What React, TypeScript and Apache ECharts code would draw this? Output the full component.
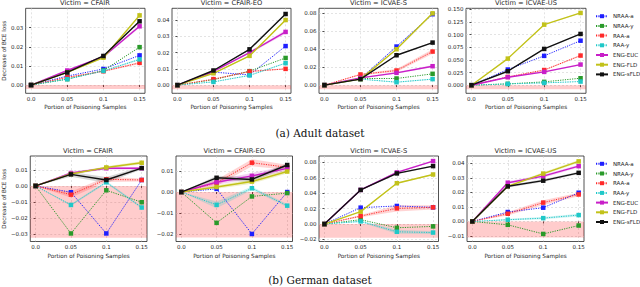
import React, { useEffect, useRef } from 'react';
import * as echarts from 'echarts';

const methods = ['NRAA-a', 'NRAA-y', 'RAA-a', 'RAA-y', 'ENG-EUC', 'ENG-FLD', 'ENG-sFLD'];
const colors = ['#1f1fff', '#2a9a2a', '#ff2a2a', '#1fc8c8', '#c81fc8', '#c2c21a', '#111111'];
const bandColors = ['rgba(31,31,255,0.18)', 'rgba(42,154,42,0.18)', 'rgba(255,42,42,0.2)', 'rgba(31,200,200,0.22)', 'rgba(200,31,200,0.2)', 'rgba(194,194,26,0.25)', 'rgba(0,0,0,0.16)'];
const xValues = [0, 0.05, 0.1, 0.15];
const xTickLabels = ['0.0', '0.05', '0.1', '0.15'];

// Rows follow the order of `methods`
const adultCFAIR = [
  [0, 0.0047, 0.0084, 0.0155],
  [0, 0.0031, 0.0076, 0.0198],
  [0, 0.004, 0.0072, 0.0116],
  [0, 0.0031, 0.0074, 0.0134],
  [0, 0.0076, 0.0148, 0.0307],
  [0, 0.0066, 0.0143, 0.0364],
  [0, 0.0066, 0.0152, 0.0333],
];
const adultCFAIREO = [
  [0, 0.008, 0.0063, 0.024],
  [0, 0.0033, 0.0086, 0.0167],
  [0, 0.0037, 0.0084, 0.01],
  [0, 0.002, 0.006, 0.0135],
  [0, 0.0084, 0.02, 0.0327],
  [0, 0.0073, 0.018, 0.04],
  [0, 0.009, 0.022, 0.0437],
];
const adultICVAES = [
  [0, 0.0074, 0.043, 0.079],
  [0, 0.0074, 0.0074, 0.0126],
  [0, 0.0119, 0.0163, 0.0374],
  [0, 0.0067, 0.0033, 0.0067],
  [0, 0.0081, 0.0137, 0.0211],
  [0, 0.0067, 0.04, 0.08],
  [0, 0.0067, 0.0333, 0.0474],
];
const adultICVAEUS = [
  [0, 0.031, 0.058, 0.088],
  [0, 0.0026, 0.0066, 0.0138],
  [0, 0.0164, 0.03, 0.0586],
  [0, 0.0026, 0.0046, 0.0072],
  [0, 0.0158, 0.0263, 0.0408],
  [0, 0.0526, 0.1197, 0.1428],
  [0, 0.0276, 0.0717, 0.1013],
];
const germanCFAIR = [
  [0, -0.0039, -0.0295, 0.0037],
  [0, -0.0295, -0.0027, -0.0101],
  [0, -0.0054, 0.0041, 0.0037],
  [0, -0.0118, 0.0023, -0.0134],
  [0, 0.008, 0.011, 0.011],
  [0, 0.0074, 0.0115, 0.0144],
  [0, 0.0072, 0.0037, 0.0111],
];
const germanCFAIREO = [
  [0, 0.0015, -0.02, 0.0],
  [0, -0.0147, -0.0021, -0.0005],
  [0, 0.0044, 0.014, 0.0118],
  [0, -0.0061, 0.0018, -0.0065],
  [0, 0.0047, 0.0077, 0.0113],
  [0, 0.0024, 0.005, 0.0098],
  [0, 0.0068, 0.006, 0.0129],
];
const germanICVAES = [
  [0, 0.0213, 0.0235, 0.0217],
  [0, 0.0057, -0.0048, -0.003],
  [0, 0.0104, 0.0204, 0.0217],
  [0, 0.0035, -0.01, -0.011],
  [0, 0.0443, 0.067, 0.0817],
  [0, 0.0161, 0.053, 0.0643],
  [0, 0.0443, 0.0657, 0.0752],
];
const germanICVAEUS = [
  [0, 0.0065, 0.0095, 0.0198],
  [0, -0.0023, -0.0086, -0.0028],
  [0, 0.0053, 0.013, 0.0186],
  [0, 0.0012, 0.0023, 0.0044],
  [0, 0.0267, 0.0312, 0.0381],
  [0, 0.0242, 0.033, 0.0414],
  [0, 0.0242, 0.0281, 0.0335],
];

// half-width of the shaded confidence band around each line (same row order)
const spreadAdultCFAIR = [
  [0, 0, 0, 0], [0, 0, 0, 0], [0, 0.0003, 0.0004, 0.0006], [0, 0.0002, 0.0003, 0.0005],
  [0, 0.0004, 0.0005, 0.0008], [0, 0.0003, 0.0004, 0.0006], [0, 0.0003, 0.0004, 0.0005],
];
const spreadAdultCFAIREO = [
  [0, 0, 0, 0], [0, 0, 0, 0], [0, 0.0003, 0.0004, 0.0004], [0, 0.0002, 0.0003, 0.0004],
  [0, 0.0004, 0.0006, 0.0012], [0, 0.0003, 0.0004, 0.0006], [0, 0.0003, 0.0004, 0.0005],
];
const spreadAdultICVAES = [
  [0, 0, 0.0005, 0.0005], [0, 0, 0, 0], [0, 0.0008, 0.0018, 0.0025], [0, 0.0004, 0.0006, 0.0006],
  [0, 0.0005, 0.0009, 0.0012], [0, 0.0003, 0.0006, 0.0008], [0, 0.0003, 0.0005, 0.0006],
];
const spreadAdultICVAEUS = [
  [0, 0, 0, 0], [0, 0, 0, 0], [0, 0.0008, 0.0012, 0.0015], [0, 0.0004, 0.0005, 0.0006],
  [0, 0.0008, 0.0012, 0.0015], [0, 0.0006, 0.0008, 0.001], [0, 0.0006, 0.0008, 0.001],
];
const spreadGermanCFAIR = [
  [0, 0, 0, 0], [0, 0, 0, 0], [0, 0.0018, 0.0016, 0.001], [0, 0.0006, 0.0008, 0.0008],
  [0, 0.0008, 0.0008, 0.0008], [0, 0.0005, 0.0008, 0.0009], [0, 0.0015, 0.0018, 0.0009],
];
const spreadGermanCFAIREO = [
  [0, 0, 0, 0], [0, 0, 0, 0], [0, 0.0015, 0.0017, 0.0012], [0, 0.0016, 0.0008, 0.0008],
  [0, 0.0012, 0.0014, 0.0012], [0, 0.0008, 0.001, 0.0009], [0, 0.001, 0.0012, 0.0009],
];
const spreadGermanICVAES = [
  [0, 0, 0, 0], [0, 0, 0, 0], [0, 0.0015, 0.004, 0.0028], [0, 0.0012, 0.0025, 0.0018],
  [0, 0.0008, 0.0012, 0.001], [0, 0.0005, 0.0008, 0.0008], [0, 0.0008, 0.001, 0.001],
];
const spreadGermanICVAEUS = [
  [0, 0, 0, 0], [0, 0, 0, 0], [0, 0.0012, 0.0016, 0.0012], [0, 0.0006, 0.0008, 0.001],
  [0, 0.001, 0.001, 0.001], [0, 0.0007, 0.0009, 0.0009], [0, 0.0008, 0.0009, 0.0008],
];

const victims = ['Victim = CFAIR', 'Victim = CFAIR-EO', 'Victim = ICVAE-S', 'Victim = ICVAE-US'];
const yTicksAdultCFAIR = [0, 0.01, 0.02, 0.03];
const yTicksAdultCFAIREO = [0, 0.01, 0.02, 0.03, 0.04];
const yTicksAdultICVAES = [0, 0.02, 0.04, 0.06, 0.08];
const yTicksAdultICVAEUS = [0, 0.025, 0.05, 0.075, 0.1, 0.125, 0.15];
const yTicksGermanCFAIR = [-0.03, -0.02, -0.01, 0, 0.01];
const yTicksGermanCFAIREO = [-0.02, -0.01, 0, 0.01];
const yTicksGermanICVAES = [-0.02, 0, 0.02, 0.04, 0.06, 0.08];
const yTicksGermanICVAEUS = [-0.01, 0, 0.01, 0.02, 0.03, 0.04];
// lower edge of the red "no gain" band below zero
const bandLow = [-0.002, -0.0025, -0.0045, -0.008, -0.0321, -0.0217, -0.0176, -0.0111];

const panels = [
  { data: adultCFAIR, spread: spreadAdultCFAIR, ticks: yTicksAdultCFAIR, dec: 2, min: -0.0043, max: 0.0401, box: [25, 8.3, 120, 85] },
  { data: adultCFAIREO, spread: spreadAdultCFAIREO, ticks: yTicksAdultCFAIREO, dec: 2, min: -0.005, max: 0.0472, box: [172, 8.3, 119, 85] },
  { data: adultICVAES, spread: spreadAdultICVAES, ticks: yTicksAdultICVAES, dec: 2, min: -0.0091, max: 0.0856, box: [319, 8.3, 119, 85] },
  { data: adultICVAEUS, spread: spreadAdultICVAEUS, ticks: yTicksAdultICVAEUS, dec: 3, min: -0.016, max: 0.152, box: [466, 8.3, 120, 85] },
  { data: germanCFAIR, spread: spreadGermanCFAIR, ticks: yTicksGermanCFAIR, dec: 2, min: -0.0345, max: 0.0186, box: [29, 156, 118, 85.5] },
  { data: germanCFAIREO, spread: spreadGermanCFAIREO, ticks: yTicksGermanCFAIREO, dec: 2, min: -0.0236, max: 0.0172, box: [176, 156, 116.5, 85.5] },
  { data: germanICVAES, spread: spreadGermanICVAES, ticks: yTicksGermanICVAES, dec: 2, min: -0.0226, max: 0.0883, box: [319, 156, 119.5, 85.5] },
  { data: germanICVAEUS, spread: spreadGermanICVAEUS, ticks: yTicksGermanICVAEUS, dec: 2, min: -0.0138, max: 0.0451, box: [467, 156, 117, 85.5] },
];

const FONT = 'DejaVu Sans';
const INK = '#262626';

export default function App() {
  const ref = useRef<HTMLDivElement>(null);
  useEffect(() => {
    if (!ref.current) return;
    const chart = echarts.init(ref.current, undefined, { renderer: 'svg' });
    const grid: any[] = [];
    const xAxis: any[] = [];
    const yAxis: any[] = [];
    const series: any[] = [];
    const graphic: any[] = [];
    panels.forEach((p, i) => {
      const [l, t, w, h] = p.box;
      grid.push({ left: l, top: t, width: w, height: h, show: true, borderColor: INK, borderWidth: 0.8 });
      xAxis.push({
        type: 'value', gridIndex: i, min: -0.0075, max: 0.1575,
        axisLine: { show: false },
        axisTick: { show: true, customValues: xValues, length: 2, lineStyle: { color: INK, width: 0.8 } },
        axisLabel: {
          customValues: xValues, fontSize: 5.5, fontFamily: FONT, color: INK, margin: 2.5,
          formatter: (v: number) => {
            let k = 0;
            xValues.forEach((x, j) => { if (Math.abs(x - v) < Math.abs(xValues[k] - v)) k = j; });
            return xTickLabels[k];
          },
        },
        splitLine: { show: true, lineStyle: { color: '#d0d0d0', type: [2, 2], width: 0.6 } },
        name: 'Portion of Poisoning Samples', nameLocation: 'middle', nameGap: i < 4 ? 11 : 11.5,
        nameTextStyle: { fontSize: 5.7, fontFamily: FONT, color: INK },
      });
      yAxis.push({
        type: 'value', gridIndex: i, min: p.min, max: p.max,
        axisLine: { show: false },
        axisTick: { show: true, customValues: p.ticks, length: 2, lineStyle: { color: INK, width: 0.8 } },
        axisLabel: {
          customValues: p.ticks, fontSize: 5.5, fontFamily: FONT, color: INK, margin: 2.5,
          formatter: (v: number) => (v < -1e-9 ? '\u2212' : '') + Math.abs(v).toFixed(p.dec),
        },
        splitLine: { show: true, lineStyle: { color: '#d0d0d0', type: [2, 2], width: 0.6 } },
        name: i === 0 || i === 4 ? 'Decrease of BCE loss' : '',
        nameLocation: 'middle', nameGap: i === 0 ? 18.5 : 22.5,
        nameTextStyle: { fontSize: 5.7, fontFamily: FONT, color: INK },
      });
      p.data.forEach((row, m) => {
        const sp = p.spread[m];
        if (sp.some((s) => s > 0)) {
          const segs: number[][] = [];
          for (let j = 0; j < xValues.length - 1; j++) {
            segs.push([xValues[j], row[j] - sp[j], row[j] + sp[j], xValues[j + 1], row[j + 1] - sp[j + 1], row[j + 1] + sp[j + 1]]);
          }
          const fill = bandColors[m];
          series.push({
            type: 'custom', xAxisIndex: i, yAxisIndex: i, silent: true, z: 2,
            encode: { x: [0, 3], y: [1, 2, 4, 5] },
            data: segs,
            renderItem: (_params: any, api: any) => {
              const a = api.coord([api.value(0), api.value(2)]);
              const b = api.coord([api.value(3), api.value(5)]);
              const c = api.coord([api.value(3), api.value(4)]);
              const d = api.coord([api.value(0), api.value(1)]);
              return { type: 'polygon', shape: { points: [a, b, c, d] }, style: { fill, stroke: 'none' } };
            },
          });
        }
        const dotted = m < 4;
        series.push({
          type: 'line', name: methods[m], xAxisIndex: i, yAxisIndex: i,
          data: xValues.map((x, j) => [x, row[j]]),
          symbol: 'rect', symbolSize: 4.5,
          lineStyle: { color: colors[m], width: dotted ? 1 : 1.4, type: dotted ? [1.2, 1.2] : 'solid' },
          itemStyle: { color: colors[m] },
          z: 3 + m,
          markArea: m === 0 ? {
            silent: true,
            itemStyle: { color: 'rgba(255,0,0,0.2)' },
            data: [[{ yAxis: 0 }, { yAxis: bandLow[i] }]],
          } : undefined,
        });
      });
      graphic.push({
        type: 'text', x: l + w / 2, y: i < 4 ? 3 : 150.5,
        style: { text: victims[i % 4], fontSize: 6.7, fontFamily: FONT, fill: INK, align: 'center', verticalAlign: 'middle', textAlign: 'center', textVerticalAlign: 'middle' },
      });
    });
    graphic.push({
      type: 'text', x: 320, y: 132.5,
      style: { text: '(a) Adult dataset', fontSize: 10.5, fontFamily: 'DejaVu Serif', fill: '#111', align: 'center', verticalAlign: 'middle', textAlign: 'center', textVerticalAlign: 'middle' },
    });
    graphic.push({
      type: 'text', x: 320, y: 280,
      style: { text: '(b) German dataset', fontSize: 10.5, fontFamily: 'DejaVu Serif', fill: '#111', align: 'center', verticalAlign: 'middle', textAlign: 'center', textVerticalAlign: 'middle' },
    });
    const legendBase = {
      orient: 'vertical', left: 595, itemWidth: 12, itemHeight: 5, itemGap: 3.7, padding: 0,
      textStyle: { fontSize: 5.5, fontFamily: FONT, color: INK },
      data: methods,
    };
    chart.setOption({
      animation: false,
      backgroundColor: '#ffffff',
      grid, xAxis, yAxis, series, graphic,
      legend: [
        { ...legendBase, top: 13.2 },
        { ...legendBase, top: 160.8 },
      ],
    });
    return () => chart.dispose();
  }, []);
  return <div ref={ref} style={{ position: 'absolute', left: 0, top: 0, width: 640, height: 287 }} />;
}
